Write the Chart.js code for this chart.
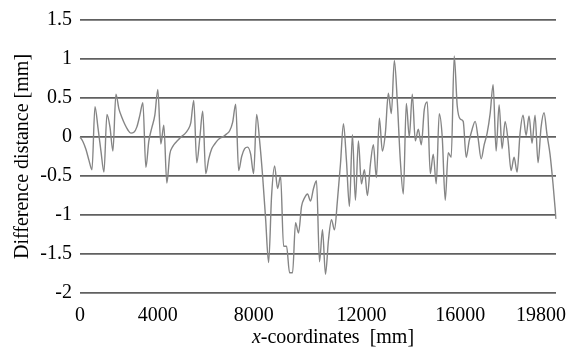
<!DOCTYPE html>
<html>
<head>
<meta charset="utf-8">
<script src="https://cdn.jsdelivr.net/npm/chart.js@4/dist/chart.umd.min.js"></script>
<style>
  body { margin: 0; background: #fff; }
  canvas { display: block; }
</style>
</head>
<body>
<canvas id="diffChart" width="581" height="352"></canvas>
<script>
// x-coordinates of the measuring points [mm] (spacing is not uniform)
const xCoords = [
  0, 150, 310, 460, 620, 770, 920, 1080, 1230, 1380, 1540, 1690, 1850, 2000, 2150, 2310, 2460, 2620, 2770, 2920,
  3080, 3230, 3380, 3540, 3690, 3850, 4000,
  4125, 4250, 4375, 4500, 4625, 4750, 4875, 5000, 5125, 5250, 5375, 5500, 5625, 5750, 5875, 6000, 6125, 6250, 6375,
  6500, 6625, 6750, 6875, 7000, 7125, 7250, 7375, 7500, 7625, 7750, 7875, 8000,
  8110, 8220, 8330, 8440, 8560, 8670, 8780, 8890, 9000, 9110, 9220, 9330, 9440, 9560, 9670, 9780, 9890, 10000,
  10110, 10220, 10330, 10440, 10560, 10670, 10780, 10890, 11000, 11110, 11220, 11330, 11440, 11560, 11670, 11780, 11890, 12000,
  12120, 12240, 12360, 12480, 12610, 12730, 12850, 12970, 13090, 13210, 13330, 13450, 13580, 13700, 13820, 13940,
  14060, 14180, 14300, 14420, 14550, 14670, 14790, 14910, 15030, 15150, 15270, 15390, 15520, 15640, 15760, 15880, 16000,
  16140, 16280, 16420, 16560, 16700, 16840, 16990, 17130, 17270, 17410, 17550, 17690, 17830, 17970, 18110, 18250,
  18390, 18530, 18670, 18810, 18960, 19100, 19240, 19380, 19520, 19660, 19800,
  19940, 20080, 20220, 20360, 20500
];

// difference distance [mm] at each point
const diffValues = [
  0.00, -0.06, -0.16, -0.30, -0.42, 0.39, 0.12, -0.18, -0.45, 0.29,
  0.13, -0.18, 0.55, 0.36, 0.25, 0.16, 0.09, 0.05, 0.06, 0.13,
  0.28, 0.44, -0.39, -0.05, 0.12, 0.28, 0.61, -0.09, 0.15, -0.59,
  -0.22, -0.12, -0.07, -0.03, 0.01, 0.04, 0.09, 0.18, 0.47, -0.33,
  -0.02, 0.33, -0.47, -0.28, -0.15, -0.09, -0.04, -0.01, 0.01, 0.04,
  0.08, 0.19, 0.42, -0.43, -0.25, -0.15, -0.13, -0.22, -0.47, 0.29,
  -0.05, -0.50, -1.05, -1.61, -0.75, -0.37, -0.66, -0.50, -1.40, -1.40,
  -1.74, -1.74, -1.10, -1.23, -0.89, -0.78, -0.73, -0.82, -0.66, -0.56,
  -1.60, -1.19, -1.76, -1.32, -1.06, -1.19, -0.81, -0.35, 0.17, -0.30,
  -0.89, 0.03, -0.81, -0.05, -0.60, -0.42, -0.75, -0.35, -0.10, -0.52,
  0.24, -0.18, 0.05, 0.56, 0.30, 0.98, 0.45, -0.30, -0.73, 0.43,
  0.00, 0.55, -0.05, 0.10, -0.10, 0.35, 0.45, -0.47, -0.22, -0.60,
  0.30, 0.00, -0.81, -0.20, -0.26, 1.04, 0.40, 0.23, 0.20, -0.26,
  -0.05, 0.10, 0.20, -0.02, -0.28, -0.10, 0.05, 0.30, 0.67, -0.18,
  0.41, -0.15, 0.20, -0.05, -0.43, -0.26, -0.45, 0.05, 0.28, 0.02,
  0.27, -0.08, 0.28, -0.33, 0.12, 0.31, 0.03, -0.22, -0.60, -1.05
];

// labelled x ticks
const xTickLabels = [0, 4000, 8000, 12000, 16000, 19800];
const yMin = -2, yMax = 1.5, yStep = 0.5;

const serif = '"Liberation Serif", "Times New Roman", serif';
const fontSize = 20;

// x axis title with italic "x"
const xTitlePlugin = {
  id: 'xTitle',
  afterDraw(chart) {
    const ctx = chart.ctx;
    const area = chart.chartArea;
    const part1 = 'x', part2 = '-coordinates  [mm]';
    ctx.save();
    ctx.fillStyle = '#000';
    ctx.textBaseline = 'middle';
    ctx.font = 'italic ' + fontSize + 'px ' + serif;
    const w1 = ctx.measureText(part1).width;
    ctx.font = fontSize + 'px ' + serif;
    const w2 = ctx.measureText(part2).width;
    const x = (area.left + area.right) / 2 + 15 - (w1 + w2) / 2;
    const y = 338;
    ctx.font = 'italic ' + fontSize + 'px ' + serif;
    ctx.fillText(part1, x, y);
    ctx.font = fontSize + 'px ' + serif;
    ctx.fillText(part2, x + w1, y);
    ctx.restore();
  }
};

const ctx = document.getElementById('diffChart').getContext('2d');
new Chart(ctx, {
  type: 'line',
  data: {
    labels: xCoords,
    datasets: [{
      data: diffValues,
      borderColor: '#858585',
      borderWidth: 1.4,
      pointRadius: 0,
      cubicInterpolationMode: 'monotone',
      fill: false
    }]
  },
  options: {
    responsive: false,
    animation: false,
    layout: { padding: { top: 16, right: 25, bottom: 0, left: 0 } },
    plugins: {
      legend: { display: false },
      tooltip: { enabled: false }
    },
    scales: {
      x: {
        type: 'category',
        offset: false,
        grid: { display: false },
        border: { display: false },
        afterFit: s => { s.height = 59; },
        ticks: {
          autoSkip: false,
          maxRotation: 0,
          minRotation: 0,
          padding: 3,
          color: '#000',
          font: { family: serif, size: fontSize },
          callback: function (value, index) {
            const v = xCoords[index];
            return xTickLabels.includes(v) ? String(v) : null;
          }
        }
      },
      y: {
        min: yMin,
        max: yMax,
        afterFit: s => { s.width = 80; },
        grid: { color: '#606060', lineWidth: 1.8, drawTicks: false },
        border: { display: false },
        ticks: {
          stepSize: yStep,
          padding: 8,
          color: '#000',
          font: { family: serif, size: fontSize },
          callback: v => String(v)
        },
        title: {
          display: true,
          text: 'Difference distance [mm]',
          color: '#000',
          font: { family: serif, size: fontSize },
          padding: { top: 11, bottom: 0 }
        }
      }
    }
  },
  plugins: [xTitlePlugin]
});
</script>
</body>
</html>
